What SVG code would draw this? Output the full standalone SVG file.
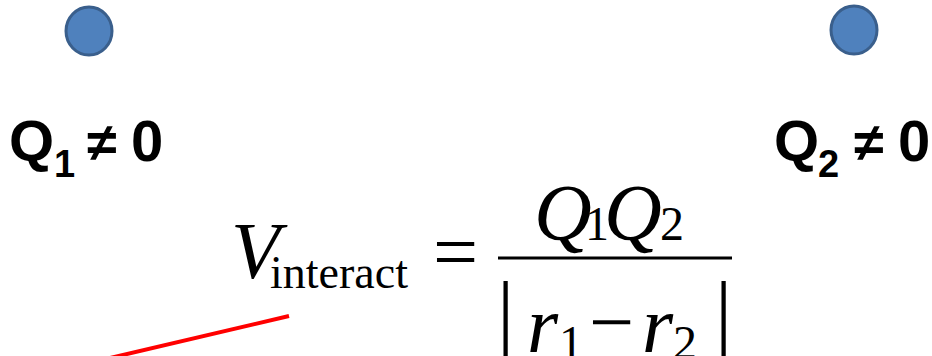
<svg xmlns="http://www.w3.org/2000/svg" width="932" height="356" viewBox="0 0 932 356">
<style>
.charge{fill:#4F81BD;stroke:#3A5F8C;stroke-width:3}
.lbl{font-family:"Liberation Sans",Arial,sans-serif;font-weight:bold;fill:#000}
.m{font-family:"Liberation Serif","Times New Roman",serif;fill:#000}
.it{font-style:italic}
</style>
<rect width="932" height="356" fill="#fff"/>
<g id="charge1">
<ellipse class="charge" cx="89" cy="31" rx="23" ry="24"/>
</g>
<g id="charge2">
<ellipse class="charge" cx="854" cy="30" rx="23" ry="24"/>
</g>
<g id="label1">
<text class="lbl" font-size="58" x="9" y="161">Q</text>
<text class="lbl" font-size="38" x="54" y="177">1</text>
<text class="lbl" font-size="54" x="87" y="161">≠</text>
<text class="lbl" font-size="58" x="131" y="161">0</text>
</g>
<g id="label2">
<text class="lbl" font-size="58" x="774" y="161">Q</text>
<text class="lbl" font-size="38" x="818" y="177">2</text>
<text class="lbl" font-size="54" x="854" y="161">≠</text>
<text class="lbl" font-size="58" x="898" y="161">0</text>
</g>
<g id="formula">
<text class="m it" font-size="80" x="231" y="278">V</text>
<text class="m" font-size="46" x="270" y="288">interact</text>
<text class="m" font-size="80" x="433" y="279">=</text>
<line x1="498" y1="258" x2="732" y2="258" stroke="#000" stroke-width="3"/>
<text class="m it" font-size="80" x="534" y="240">Q</text>
<text class="m" font-size="48" x="585" y="240">1</text>
<text class="m it" font-size="80" x="604" y="240">Q</text>
<text class="m" font-size="48" x="660" y="240">2</text>
<text class="m" font-size="86" x="497" y="341">|</text>
<text class="m it" font-size="80" x="527" y="352">r</text>
<text class="m" font-size="48" x="559" y="359">1</text>
<text class="m" font-size="80" x="589" y="349">−</text>
<text class="m it" font-size="80" x="642" y="352">r</text>
<text class="m" font-size="48" x="673" y="359">2</text>
<text class="m" font-size="86" x="715" y="341">|</text>
</g>
<g id="connectors">
<line x1="110" y1="358" x2="289" y2="316" stroke="#FF0000" stroke-width="4"/>
</g>
</svg>
